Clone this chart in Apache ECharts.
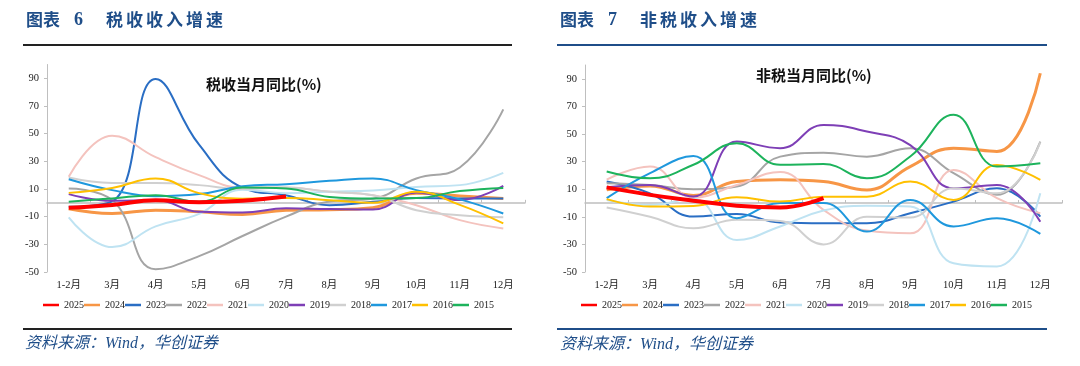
<!DOCTYPE html>
<html><head><meta charset="utf-8">
<script src="https://cdn.jsdelivr.net/npm/echarts@6/dist/echarts.min.js"></script>
<style>html,body{margin:0;padding:0;background:#fff}#c{width:1080px;height:366px}</style>
</head><body><div id="c"></div>
<script>
const categories = ['1-2月','3月','4月','5月','6月','7月','8月','9月','10月','11月','12月'];
const years = ['2025','2024','2023','2022','2021','2020','2019','2018','2017','2016','2015'];
const yTicks = [-50,-30,-10,10,30,50,70,90];

// 税收当月同比(%)
const tax2025 = [-3.6, -1.5, 1.8, 0.5, 1.5, 4.5];
const tax2024 = [-4.3, -7.7, -5.3, -6.5, -8.4, -5.3, -5.0, -3.5, 7.0, 5.0, 3.2];
const tax2023 = [-2.9, 1.0, 89.6, 42.0, 11.0, 5.5, -1.7, 0.7, 3.5, 3.2, 3.2];
const tax2022 = [10.4, 2.0, -48.0, -38.5, -24.0, -10.0, 1.0, 3.0, 17.6, 25.5, 67.6];
const tax2021 = [18.8, 48.5, 33.0, 20.0, 11.0, 11.0, 8.0, 5.5, -1.7, -12.5, -18.5];
const tax2020 = [-10.5, -32.0, -17.0, -8.0, 9.5, 7.0, 8.0, 9.0, 11.5, 12.8, 21.6];
const tax2019 = [6.3, 1.5, 2.0, -6.5, -7.0, -4.0, -4.5, -4.8, 7.5, 2.0, 12.3];
const tax2018 = [18.3, 14.4, 14.4, 12.8, 10.0, 11.0, 8.0, 5.5, -5.3, -8.9, -10.5];
const tax2017 = [17.1, 9.2, 4.8, 6.3, 12.0, 13.5, 15.9, 17.6, 9.2, 2.5, -7.7];
const tax2016 = [7.2, 10.8, 17.6, 7.0, 3.0, 3.5, 1.9, 0.0, 8.0, -1.5, -14.9];
const tax2015 = [0.7, 3.2, 5.5, 0.7, 11.0, 10.4, 4.3, 3.2, 3.5, 8.5, 10.8];

// 非税当月同比(%)
const nt2025 = [11.3, 5.9, 1.7, -2.0, -3.3, 3.5];
const nt2024 = [9.5, 12.4, 5.5, 15.6, 16.8, 15.6, 9.5, 26.4, 39.7, 37.3, 94.0];
const nt2023 = [15.6, 7.0, -9.8, -7.9, -14.2, -14.7, -14.7, -7.4, 1.0, 10.7, -9.8];
const nt2022 = [14.4, 13.0, 10.0, 12.0, 33.6, 36.5, 33.6, 39.7, 21.6, 5.9, 44.5];
const nt2021 = [17.0, 26.5, 4.0, 13.0, 22.5, -5.0, -20.0, -22.0, 24.0, 3.5, -7.4];
const nt2020 = [2.2, -1.4, 3.0, -26.8, -17.0, -5.5, -2.0, -2.6, -43.7, -46.0, 7.0];
const nt2019 = [11.4, 13.0, 4.7, 44.5, 39.7, 56.6, 51.8, 42.0, 10.7, 13.0, -13.5];
const nt2018 = [-3.3, -10.0, -18.3, -12.2, -13.0, -30.0, -10.0, -10.5, 10.7, 7.0, 44.0];
const nt2017 = [3.5, 21.6, 34.0, -11.0, 0.0, 0.0, -20.7, 2.2, -17.0, -11.0, -22.4];
const nt2016 = [2.8, -2.6, -2.1, 4.2, 1.0, 4.6, 4.6, 15.5, 2.2, 27.6, 16.7];
const nt2015 = [22.8, 17.9, 27.7, 43.3, 27.7, 28.2, 18.0, 33.7, 63.9, 26.4, 28.8];

const taxData = [tax2025,tax2024,tax2023,tax2022,tax2021,tax2020,tax2019,tax2018,tax2017,tax2016,tax2015];
const ntData = [nt2025,nt2024,nt2023,nt2022,nt2021,nt2020,nt2019,nt2018,nt2017,nt2016,nt2015];

const colors = ['#FF0000','#F79646','#2A6EC4','#A5A5A5','#F4C3BE','#BFE3F2','#7E3FB6','#D0D0D0','#1F98DD','#FFC000','#1DB35C'];
const widths = [4,3,2,2,2,2,2,2,2,2,2];
const serif = "'Liberation Serif','Noto Sans CJK SC',serif";
const navy = '#1F4E89';

const chart = echarts.init(document.getElementById('c'), null, {renderer:'canvas'});

function mkSeries(data, gi) {
  return years.map((y, i) => ({
    name: y, type: 'line', xAxisIndex: gi*2, yAxisIndex: gi,
    data: data[i], smooth: 0.45, showSymbol: false, symbol: 'none',
    lineStyle: {color: colors[i], width: widths[i]}, itemStyle: {color: colors[i]},
    z: i === 0 ? 5 : 3, animation: false
  }));
}

function xAxes(gi) {
  return [
    {gridIndex: gi, type: 'category', data: categories, boundaryGap: true, position: 'bottom',
     axisLine: {show: false, onZero: false}, axisTick: {show: false},
     axisLabel: {fontFamily: serif, fontSize: 10.5, color: '#222', margin: 8, interval: 0}},
    {gridIndex: gi, type: 'category', data: categories, boundaryGap: true, position: 'bottom',
     axisLine: {show: true, onZero: true, lineStyle: {color: '#BFBFBF', width: 1.5}},
     axisTick: {show: true, inside: true, length: 3, lineStyle: {color: '#BFBFBF'}},
     axisLabel: {show: false}}
  ];
}
function yAxis(gi) {
  return {gridIndex: gi, type: 'value', min: -50, max: 100, interval: 20,
    axisLine: {show: true, lineStyle: {color: '#BFBFBF', width: 1}},
    axisTick: {show: true, length: 3, lineStyle: {color: '#BFBFBF'}},
    splitLine: {show: false},
    axisLabel: {fontFamily: serif, fontSize: 10.5, color: '#222', margin: 8, showMaxLabel: false,
      formatter: v => yTicks.indexOf(v) >= 0 ? String(v) : ''}};
}

function legend(left) {
  return {left: left, top: 295, itemWidth: 16, itemHeight: 2.5, itemGap: 0, icon: 'rect',
    textStyle: {fontFamily: serif, fontSize: 10, color: '#222'},
    data: years};
}

const graphics = [];
function titleChars(x0, num, text) {
  graphics.push({type:'text', left: x0, top: 11, style:{text:'图表', font:"bold 17px 'Noto Sans CJK SC'", fill: navy}});
  graphics.push({type:'text', left: x0+48, top: 11, style:{text:num, font:"bold 18px 'Liberation Serif'", fill: navy}});
  for (let i=0;i<text.length;i++) {
    graphics.push({type:'text', left: x0+80+i*20, top: 11, style:{text:text[i], font:"bold 17px 'Noto Sans CJK SC'", fill: navy}});
  }
}
titleChars(26, '6', '税收收入增速');
titleChars(560, '7', '非税收入增速');
graphics.push({type:'rect', shape:{x:23,y:44,width:489,height:2}, style:{fill:'#222'}});
graphics.push({type:'rect', shape:{x:557,y:44,width:490,height:2}, style:{fill:navy}});
graphics.push({type:'rect', shape:{x:23,y:328,width:489,height:2}, style:{fill:'#222'}});
graphics.push({type:'rect', shape:{x:557,y:328,width:490,height:2}, style:{fill:navy}});
graphics.push({type:'text', left: 25, top: 336, style:{text:'资料来源：Wind，华创证券', font:"italic 16px 'Liberation Serif','Noto Sans CJK SC'", fill: navy}});
graphics.push({type:'text', left: 560, top: 337, style:{text:'资料来源：Wind，华创证券', font:"italic 16px 'Liberation Serif','Noto Sans CJK SC'", fill: navy}});
graphics.push({type:'text', left: 206, top: 77, style:{text:'税收当月同比(%)', font:"bold 15px 'Noto Sans CJK SC'", fill: '#111'}});
graphics.push({type:'text', left: 756, top: 68, style:{text:'非税当月同比(%)', font:"bold 15px 'Noto Sans CJK SC'", fill: '#111'}});

chart.setOption({
  animation: false,
  grid: [
    {left: 47, top: 64.5, width: 478, height: 207.5},
    {left: 585, top: 65, width: 477, height: 207}
  ],
  xAxis: [...xAxes(0), ...xAxes(1)],
  yAxis: [yAxis(0), yAxis(1)],
  legend: [legend(38), legend(576)],
  graphic: graphics,
  series: [...mkSeries(taxData, 0), ...mkSeries(ntData, 1)]
});
</script></body></html>
